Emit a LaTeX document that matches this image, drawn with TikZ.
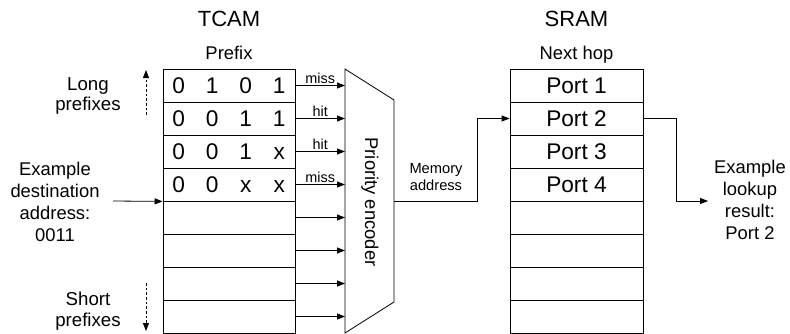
\documentclass[tikz,border=0pt]{standalone}
\usepackage{fontspec}
\setmainfont{Liberation Sans}
\usetikzlibrary{arrows.meta,positioning,calc}
\tikzset{
 cell/.style={draw,line width=.6pt,minimum width=99pt,minimum height=24.75pt,inner sep=0pt,font=\fontsize{17}{18}\selectfont},
 bit/.style={inner sep=0pt,text height=12.1pt,text depth=0pt,font=\fontsize{17}{18}\selectfont},
 title/.style={font=\fontsize{16.5}{18}\selectfont},
 head/.style={font=\fontsize{13.8}{16}\selectfont},
 note/.style={align=center,inner sep=0pt,font=\fontsize{13.8}{16.7}\selectfont},
 side/.style={note,font=\fontsize{14}{15.5}\selectfont},
 small/.style={align=center,inner sep=0pt,font=\fontsize{11}{12.5}\selectfont},
 flag/.style={above,inner sep=1.2pt,font=\fontsize{10.8}{12}\selectfont},
 arr/.style={-{Triangle[length=6pt,width=4.5pt]},line width=.6pt},
 dasharr/.style={arr,dash pattern=on 2pt off 1.5pt}
}

\begin{document}
\begin{tikzpicture}[x=.75pt,y=-.75pt]
\useasboundingbox (0,0) rectangle (790,333);
\clip (0,0) rectangle (790,333);
% headings
\node[title] (tcam) at (229,19) {TCAM};
\node[head,anchor=base] (prefix) at (229,59.5) {Prefix};
\node[title] (sram) at (576.5,19) {SRAM};
\node[head,anchor=base] (nexthop) at (576.5,59.5) {Next hop};
% the two tables
\foreach \r in {1,...,8} {
 \node[cell] (t\r) at (229,{52.5+33*\r}) {};
 \node[cell,minimum width=99.75pt] (s\r) at (576.5,{52.5+33*\r}) {};
}
\foreach \r in {1,...,4}
 \node[font=\fontsize{17}{18}\selectfont] (port\r) at (s\r.center) {Port \r};
% priority encoder
\coordinate (encTL) at (345,69);
\coordinate (encTR) at (394,100);
\coordinate (encBR) at (394,302);
\coordinate (encBL) at (345,333);
\draw[line width=.6pt] (encTL) -- (encTR) -- (encBR) -- (encBL) -- cycle;
\node[head,rotate=-90] (prio) at (370,202) {Priority encoder};
% stored prefixes and match lines
\foreach \r/\bits/\flag in {1/{0,1,0,1}/miss,2/{0,0,1,1}/hit,3/{0,0,1,x}/hit,4/{0,0,x,x}/miss} {
 \foreach \b [count=\c] in \bits
  \node[bit] (b\r\c) at ([xshift={(\c-2.5)*25.1pt}]t\r.center) {\b};
 \draw[arr] (t\r.east) -- node[flag] {\flag} (t\r.east -| encTL);
}
\foreach \r in {5,...,8}
 \draw[arr] (t\r.east) -- (t\r.east -| encTL);
% lookup in
\node[note] (dest) at (55,202) {Example\\destination\\address:\\0011};
\coordinate (destin) at (113,201);
\draw[arr] (destin) -- (t4.south west);
% memory address
\coordinate (encout) at (t4.south -| encTR);
\draw[arr] (encout) -- ++(83,0) |- (s2.west);
\node[small] (memaddr) at (436,177) {Memory\\address};
% lookup out
\coordinate (resin) at (708,201);
\draw[arr] (s2.east) -- ++(33,0) |- (resin);
\node[note] (result) at (750,200) {Example\\lookup\\result:\\Port 2};
% prefix length order
\node[side] (long) at (88,96) {Long\\prefixes};
\node[side] (short) at (88,311) {Short\\prefixes};
\coordinate (longlo) at (146,115);
\coordinate (longhi) at (146,70);
\coordinate (shorthi) at (146,283);
\coordinate (shortlo) at (146,331);
\draw[dasharr] (longlo) -- (longhi);
\draw[dasharr] (shorthi) -- (shortlo);
\end{tikzpicture}
\end{document}
